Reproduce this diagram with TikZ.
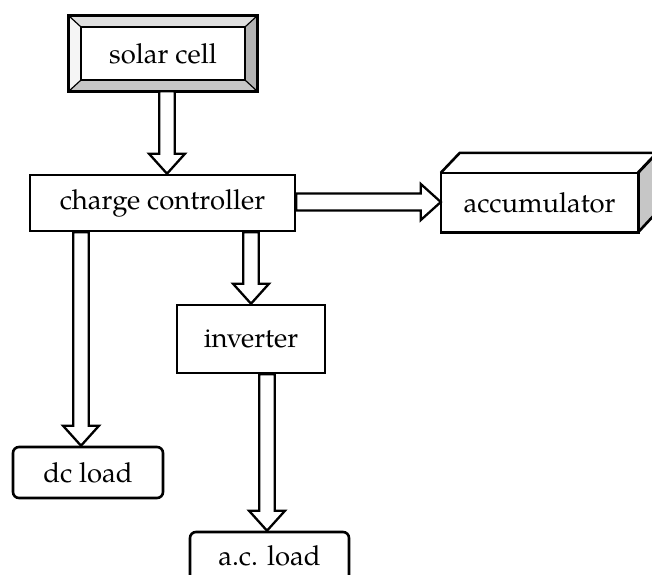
\documentclass[tikz,border=0pt]{standalone}
\usepackage{fontspec}
\setmainfont{TeX Gyre Pagella}
\usetikzlibrary{calc}
\tikzset{
  lbl/.style={font=\fontsize{27.5}{29}\selectfont},
  box/.style={draw, line width=2.6pt, fill=white, inner sep=0pt, lbl},
  rbox/.style={box, rounded corners=6pt},
  downarrow/.style={draw, line width=2.3pt, fill=white, line join=miter,
    to path={let \p1=(\tikztostart), \p2=(\tikztotarget) in
      (\x1-7.8pt,\y1) -- (\x1-7.8pt,\y2+20pt) -- (\x1-18pt,\y2+20pt) -- (\x1,\y2)
      -- (\x1+18pt,\y2+20pt) -- (\x1+7.8pt,\y2+20pt) -- (\x1+7.8pt,\y1) -- cycle}},
  rightarrow/.style={draw, line width=2.3pt, fill=white, line join=miter,
    to path={let \p1=(\tikztostart), \p2=(\tikztotarget) in
      (\x1,\y1+8.5pt) -- (\x2-20pt,\y1+8.5pt) -- (\x2-20pt,\y1+18pt) -- (\x2,\y1)
      -- (\x2-20pt,\y1-18pt) -- (\x2-20pt,\y1-8.5pt) -- (\x1,\y1-8.5pt) -- cycle}}
}
\begin{document}
\begin{tikzpicture}[x=1pt,y=-1pt]
\useasboundingbox (0,0) rectangle (652,574);
% solar cell bevelled box
\node[minimum width=188pt, minimum height=75pt, inner sep=0pt] (scout) at (163,53.5) {};
\node[minimum width=164pt, minimum height=53pt, inner sep=0pt] (sc) at (163,53.5) {};
\fill[gray!25] (scout.north west) -- (scout.north east) -- (sc.north east) -- (sc.north west) -- cycle;
\fill[gray!8] (scout.north west) -- (sc.north west) -- (sc.south west) -- (scout.south west) -- cycle;
\fill[gray!60] (scout.north east) -- (scout.south east) -- (sc.south east) -- (sc.north east) -- cycle;
\fill[gray!45] (scout.south west) -- (sc.south west) -- (sc.south east) -- (scout.south east) -- cycle;
\draw[line width=1.2pt] (scout.north west) -- (sc.north west) (scout.north east) -- (sc.north east)
  (scout.south west) -- (sc.south west) (scout.south east) -- (sc.south east);
\draw[line width=3pt] (scout.north west) rectangle (scout.south east);
\draw[line width=2.2pt] (sc.north west) rectangle (sc.south east);
\node[lbl] at (sc) {solar cell};
% main boxes
\node[box, minimum width=265pt, minimum height=56pt] (cc) at (162.5,203) {charge controller};
\node[box, minimum width=148pt, minimum height=68pt] (inv) at (251,339) {inverter};
\node[rbox, minimum width=150pt, minimum height=51pt] (dc) at (88,472.5) {dc load};
\node[rbox, minimum width=159pt, minimum height=53pt] (ac) at (269.5,558.5) {};
\node[lbl, inner sep=0pt] (aclbl) at (269.5,556) {a.c. load};
% accumulator (3D box)
\node[minimum width=197pt, minimum height=59pt, inner sep=0pt] (acc) at (539.5,202.5) {};
\fill[white] (acc.north west) -- ++(19,-20) -- ++(197,0) -- ($(acc.north east)$) -- cycle;
\fill[gray!45] (acc.north east) -- ++(19,-20) -- ++(0,59) -- (acc.south east) -- cycle;
\draw[line width=2.6pt, line join=miter] (acc.north west) -- ++(19,-20) -- ++(197,0) -- ++(-19,20)
  (acc.north east) -- ++(19,-20) -- ++(0,59) -- (acc.south east);
\draw[line width=2.6pt, fill=white] (acc.north west) rectangle (acc.south east);
\node[lbl] at (acc) {accumulator};
% arrows
\path ([xshift=4pt]scout.south) edge[downarrow] (cc.north);
\path ([xshift=-81.5pt]cc.south) edge[downarrow] (dc.north);
\path (cc.south -| inv.north) edge[downarrow] (inv.north);
\path ([xshift=16pt]inv.south) edge[downarrow] ([xshift=-2.5pt]ac.north);
\path ([yshift=1pt]cc.east) edge[rightarrow] (acc.west);
\end{tikzpicture}
\end{document}
